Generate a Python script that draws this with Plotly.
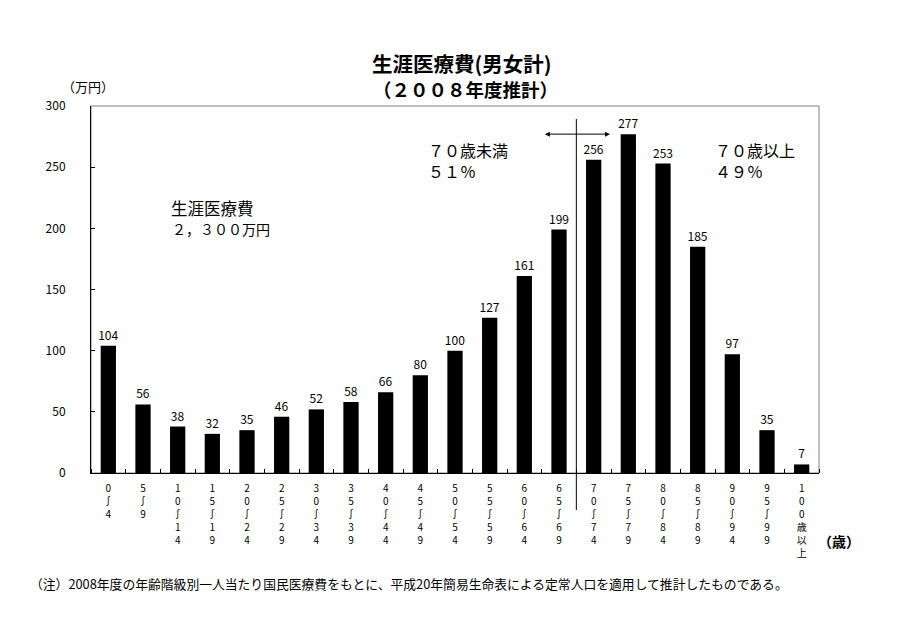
import plotly.graph_objects as go

W = "∫"
categories = ["0<br>W<br>4", "5<br>W<br>9", "1<br>0<br>W<br>1<br>4", "1<br>5<br>W<br>1<br>9",
              "2<br>0<br>W<br>2<br>4", "2<br>5<br>W<br>2<br>9", "3<br>0<br>W<br>3<br>4", "3<br>5<br>W<br>3<br>9",
              "4<br>0<br>W<br>4<br>4", "4<br>5<br>W<br>4<br>9", "5<br>0<br>W<br>5<br>4", "5<br>5<br>W<br>5<br>9",
              "6<br>0<br>W<br>6<br>4", "6<br>5<br>W<br>6<br>9", "7<br>0<br>W<br>7<br>4", "7<br>5<br>W<br>7<br>9",
              "8<br>0<br>W<br>8<br>4", "8<br>5<br>W<br>8<br>9", "9<br>0<br>W<br>9<br>4", "9<br>5<br>W<br>9<br>9",
              "1<br>0<br>0<br>歳<br>以<br>上"]
values = [104, 56, 38, 32, 35, 46, 52, 58, 66, 80, 100, 127, 161, 199, 256, 277, 253, 185, 97, 35, 7]
y_ticks = [0, 50, 100, 150, 200, 250, 300]

FONT = "Noto Sans CJK JP, Arial, sans-serif"
xs = list(range(len(values)))
ticktext = [c.replace("W", W) for c in categories]

L, R, T, B = 91, 819, 106, 473
PW, PH = R - L, B - T

fig = go.Figure()
fig.add_trace(go.Bar(
    x=xs, y=values, marker=dict(color="black", line=dict(width=0)),
    text=[str(v) for v in values], textposition="outside", cliponaxis=False,
    constraintext="none",
    textfont=dict(size=12, color="black", family=FONT), width=0.44,
))

fig.update_layout(
    width=908, height=642,
    margin=dict(l=L, r=908 - R, t=T, b=642 - B),
    paper_bgcolor="white", plot_bgcolor="white",
    showlegend=False,
    font=dict(family=FONT, color="black"),
    xaxis=dict(range=[-0.5, 20.5], tickvals=xs, ticktext=ticktext, ticks="",
               tickfont=dict(size=10, family=FONT), showline=True, linecolor="black",
               linewidth=1, showgrid=False, zeroline=False, tickangle=0, ticklabelstandoff=6,
               minor=dict(tick0=-0.5, dtick=1, ticks="inside", ticklen=4, tickcolor="black")),
    yaxis=dict(range=[0, 300], tickvals=y_ticks, ticks="inside", ticklen=4, tickcolor="black",
               tickfont=dict(size=12, family=FONT), showline=True, linecolor="black",
               showgrid=False, zeroline=False, ticklabelstandoff=22),
)

# frame
fig.add_shape(type="rect", xref="paper", yref="paper", x0=0, x1=1, y0=0, y1=1,
              line=dict(color="#808080", width=1), layer="below")

# 70-year boundary line
fig.add_shape(type="line", xref="x", yref="paper", x0=13.5, x1=13.5,
              y0=(B - 510) / PH, y1=(B - 119) / PH,
              line=dict(color="black", width=1))
fig.add_annotation(x=14.47, y=277, ax=12.55, ay=277, xref="x", yref="y", axref="x", ayref="y",
                   text="", showarrow=True, arrowhead=2, arrowside="end+start",
                   arrowsize=1, arrowwidth=1, arrowcolor="black")

def ann(text, px, py, size, xanchor="left", yanchor="middle", bold=False, align="left"):
    fig.add_annotation(text=f"<b>{text}</b>" if bold else text,
                       x=(px - L) / PW, y=(B - py) / PH, xref="paper", yref="paper",
                       showarrow=False, xanchor=xanchor, yanchor=yanchor, align=align,
                       font=dict(size=size, family=FONT, color="black"))

ann("生涯医療費(男女計)", 462, 63, 20.5, xanchor="center", bold=True)
ann("（２００８年度推計）", 466, 89, 18.5, xanchor="center", bold=True)
ann("（万円）", 60, 86, 13)
ann("７０歳未満<br>５１％", 426, 160, 16)
ann("７０歳以上<br>４９％", 713, 160, 16)
ann("生涯医療費", 169, 208, 16.5)
ann("２，３００万円", 170, 229, 14)
ann("（歳）", 816, 541, 14, bold=True)
ann("（注）2008年度の年齢階級別一人当たり国民医療費をもとに、平成20年簡易生命表による定常人口を適用して推計したものである。",
    28, 583, 12.8)

fig.write_html("out.html")
